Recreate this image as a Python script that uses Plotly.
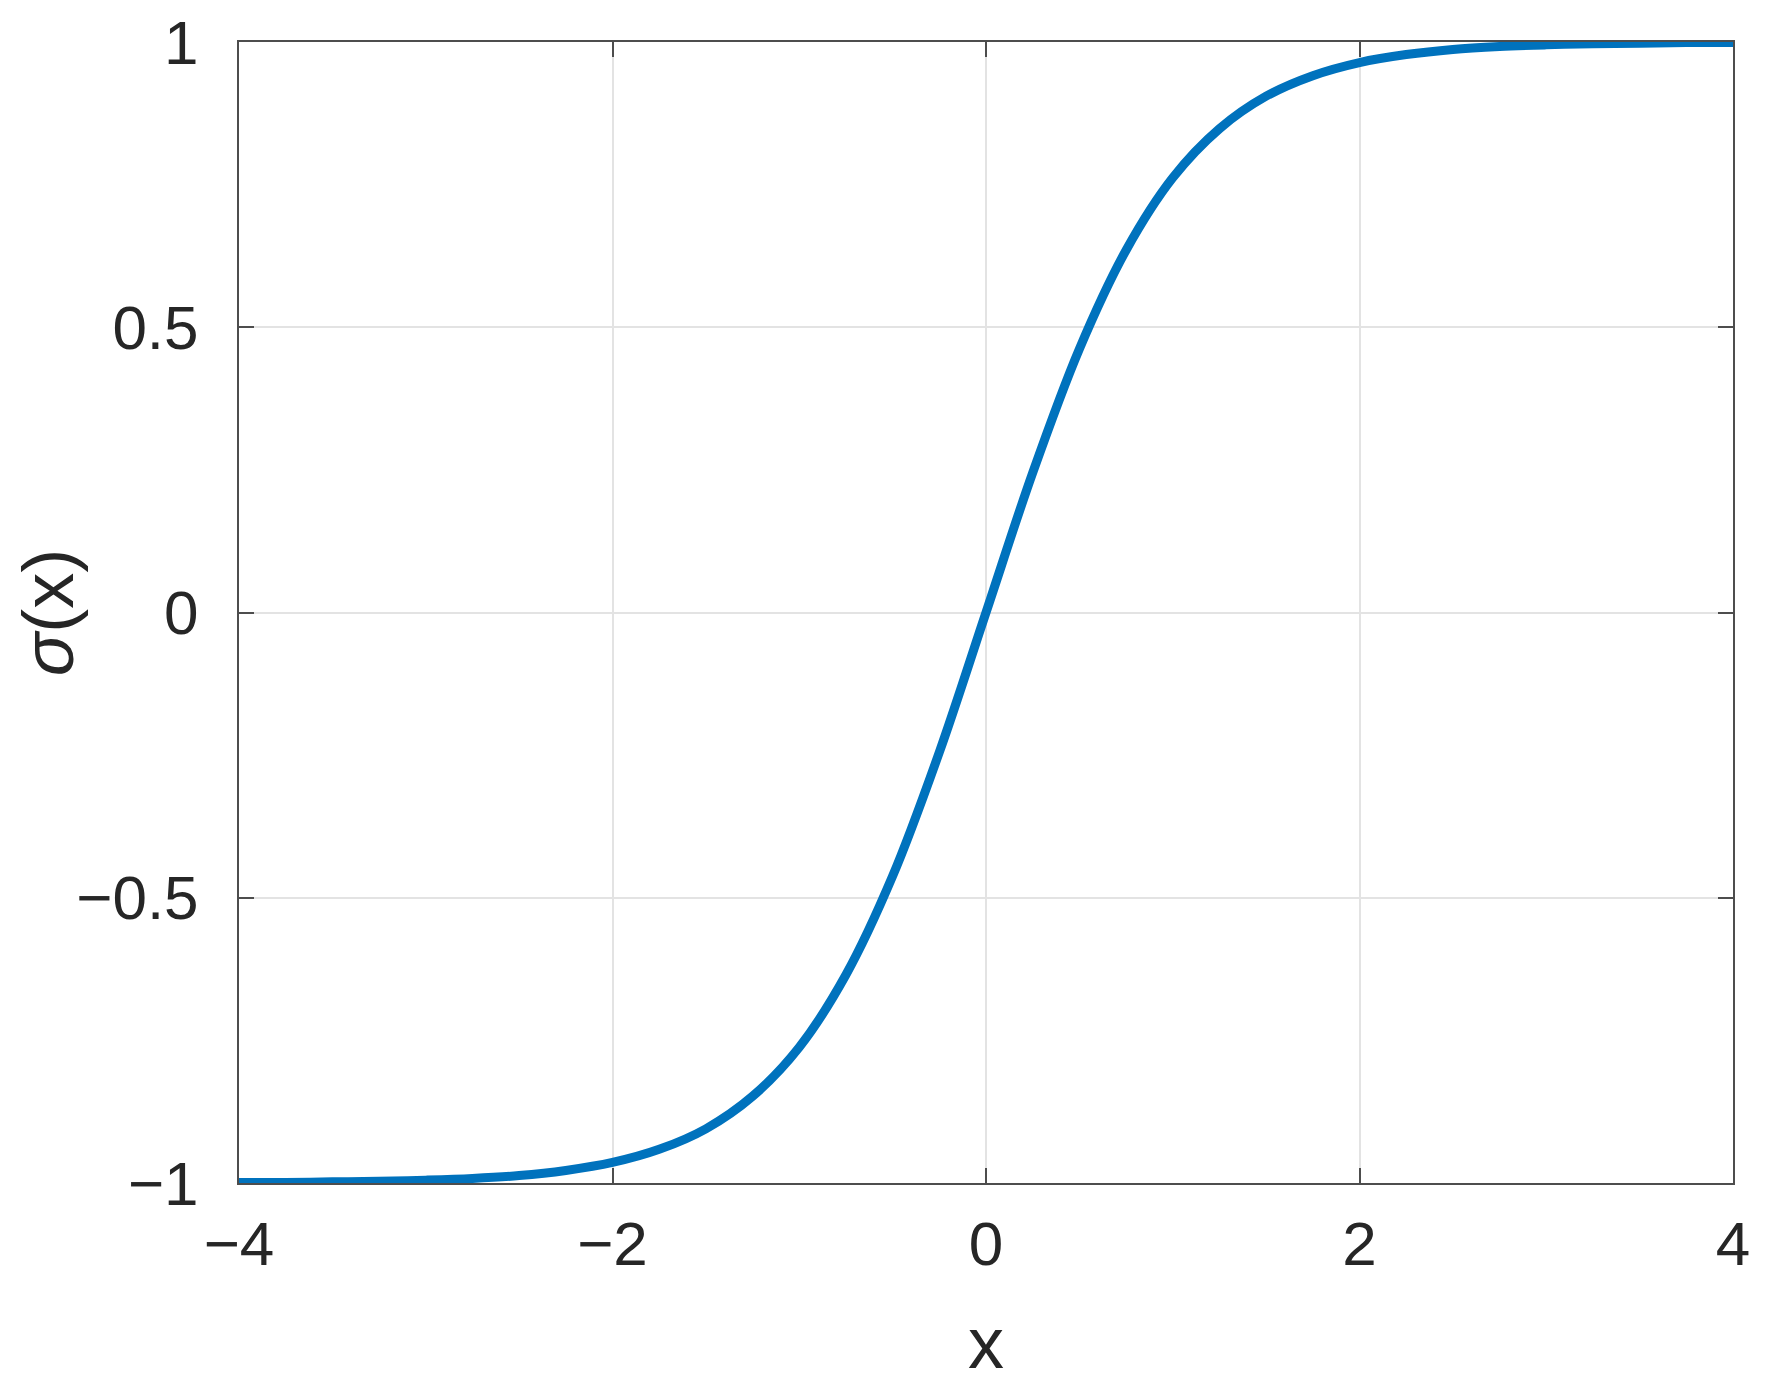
import plotly.graph_objects as go

# values
x_vals = [-4.0, -3.75, -3.5, -3.25, -3.0, -2.75, -2.5, -2.25, -2.0, -1.75, -1.5, -1.25,
          -1.0, -0.75, -0.5, -0.25, 0.0, 0.25, 0.5, 0.75, 1.0, 1.25, 1.5, 1.75,
          2.0, 2.25, 2.5, 2.75, 3.0, 3.25, 3.5, 3.75, 4.0]
y_vals = [-0.999, -0.999, -0.998, -0.997, -0.995, -0.992, -0.987, -0.978, -0.964, -0.941, -0.905, -0.848,
          -0.762, -0.635, -0.462, -0.245, 0.0, 0.245, 0.462, 0.635, 0.762, 0.848, 0.905, 0.941,
          0.964, 0.978, 0.987, 0.992, 0.995, 0.997, 0.998, 0.999, 0.999]

x_ticks = [-4, -2, 0, 2, 4]
x_ticktext = ["\u22124", "\u22122", "0", "2", "4"]
y_ticks = [-1, -0.5, 0, 0.5, 1]
y_ticktext = ["\u22121", "\u22120.5", "0", "0.5", "1"]

FONT = "Liberation Sans, Arial, sans-serif"
AXIS_COLOR = "#4d4d4d"
TEXT_COLOR = "#262626"

fig = go.Figure()
fig.add_trace(go.Scatter(x=x_vals, y=y_vals, mode="lines",
                         line=dict(color="#0072BD", width=9, shape="spline"),
                         showlegend=False, cliponaxis=False))

axis_common = dict(
    showline=True, linecolor=AXIS_COLOR, linewidth=2, mirror="ticks",
    ticks="inside", ticklen=15, tickwidth=2, tickcolor=AXIS_COLOR,
    showgrid=True, gridcolor="#e3e3e3", gridwidth=1.5,
    zeroline=False, automargin=False, ticklabeloverflow="allow",
    tickfont=dict(family=FONT, size=62, color=TEXT_COLOR),
)

fig.update_xaxes(range=[-4, 4], tickvals=x_ticks, ticktext=x_ticktext,
                 ticklabelstandoff=6,
                 title=dict(text="x", font=dict(family=FONT, size=72, color=TEXT_COLOR), standoff=40),
                 **axis_common)
fig.update_yaxes(range=[-1, 1], tickvals=y_ticks, ticktext=y_ticktext,
                 ticklabelstandoff=26,
                 title=dict(text="<i>\u03c3</i>(x)", font=dict(family=FONT, size=72, color=TEXT_COLOR), standoff=8),
                 **axis_common)

# page body adds ~8px offset, margins compensate
fig.update_layout(
    width=1770, height=1390,
    margin=dict(l=231, r=45, t=34, b=215),
    plot_bgcolor="white", paper_bgcolor="white",
)

fig.write_html("out.html")
